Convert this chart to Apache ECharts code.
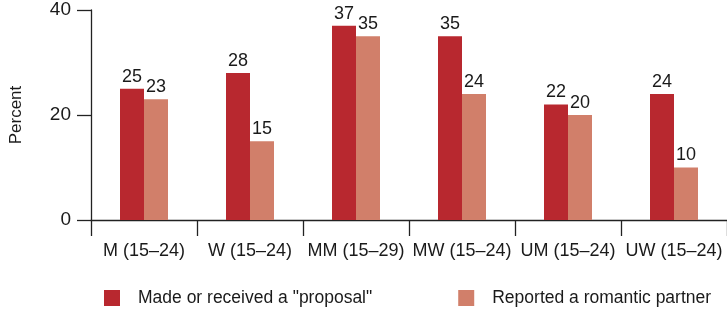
<!DOCTYPE html>
<html><head><meta charset="utf-8">
<script src="https://cdn.jsdelivr.net/npm/echarts@6/dist/echarts.min.js"></script>
<style>html,body{margin:0;padding:0;background:#fff}#c{width:727px;height:311px}</style>
</head><body><div id="c"></div>
<script>
const categories = ["M (15\u201324)", "W (15\u201324)", "MM (15\u201329)", "MW (15\u201324)", "UM (15\u201324)", "UW (15\u201324)"];
const proposal = [25, 28, 37, 35, 22, 24];
const partner = [23, 15, 35, 24, 20, 10];
const seriesNames = ['Made or received a "proposal"', 'Reported a romantic partner'];
const yTicks = [0, 20, 40];

const FONT = '"Liberation Sans", Arial, sans-serif';
const chart = echarts.init(document.getElementById('c'), null, {renderer: 'canvas'});
const lbl = {show: true, position: 'top', distance: 3, fontSize: 18, color: '#1a1a1a', fontFamily: FONT};
chart.setOption({
  animation: false,
  textStyle: {fontFamily: FONT},
  grid: {left: 91, top: 10, width: 638, height: 210, containLabel: false},
  legend: {
    top: 289, left: 104, padding: 0, itemGap: 86, itemWidth: 16, itemHeight: 16, icon: 'rect',
    textStyle: {fontSize: 17.5, color: '#1a1a1a', fontFamily: FONT, padding: [0, 0, 0, 13]},
    data: seriesNames
  },
  xAxis: {
    type: 'category', data: categories,
    axisLine: {lineStyle: {color: '#222', width: 1.3}},
    axisTick: {show: true, interval: 0, length: 16, lineStyle: {color: '#222', width: 1.3}},
    axisLabel: {interval: 0, fontSize: 18, color: '#1a1a1a', margin: 22, fontFamily: FONT}
  },
  yAxis: {
    type: 'value', min: 0, max: 40, interval: 20,
    name: 'Percent', nameLocation: 'middle', nameGap: 66, nameRotate: 90,
    nameTextStyle: {fontSize: 17, color: '#1a1a1a', fontFamily: FONT},
    axisLine: {show: true, lineStyle: {color: '#222', width: 1.3}},
    axisTick: {show: true, length: 14, lineStyle: {color: '#222', width: 1.3}},
    axisLabel: {fontSize: 19, color: '#1a1a1a', margin: 20, fontFamily: FONT,
      formatter: v => yTicks.includes(v) ? String(v) : ''},
    splitLine: {show: false}
  },
  series: [
    {name: seriesNames[0], type: 'bar', data: proposal, barWidth: 24, barGap: '0%',
      itemStyle: {color: '#B8282F'}, label: lbl},
    {name: seriesNames[1], type: 'bar', data: partner, barWidth: 24, barGap: '0%',
      itemStyle: {color: '#D17F6A'}, label: lbl}
  ]
});
</script></body></html>
